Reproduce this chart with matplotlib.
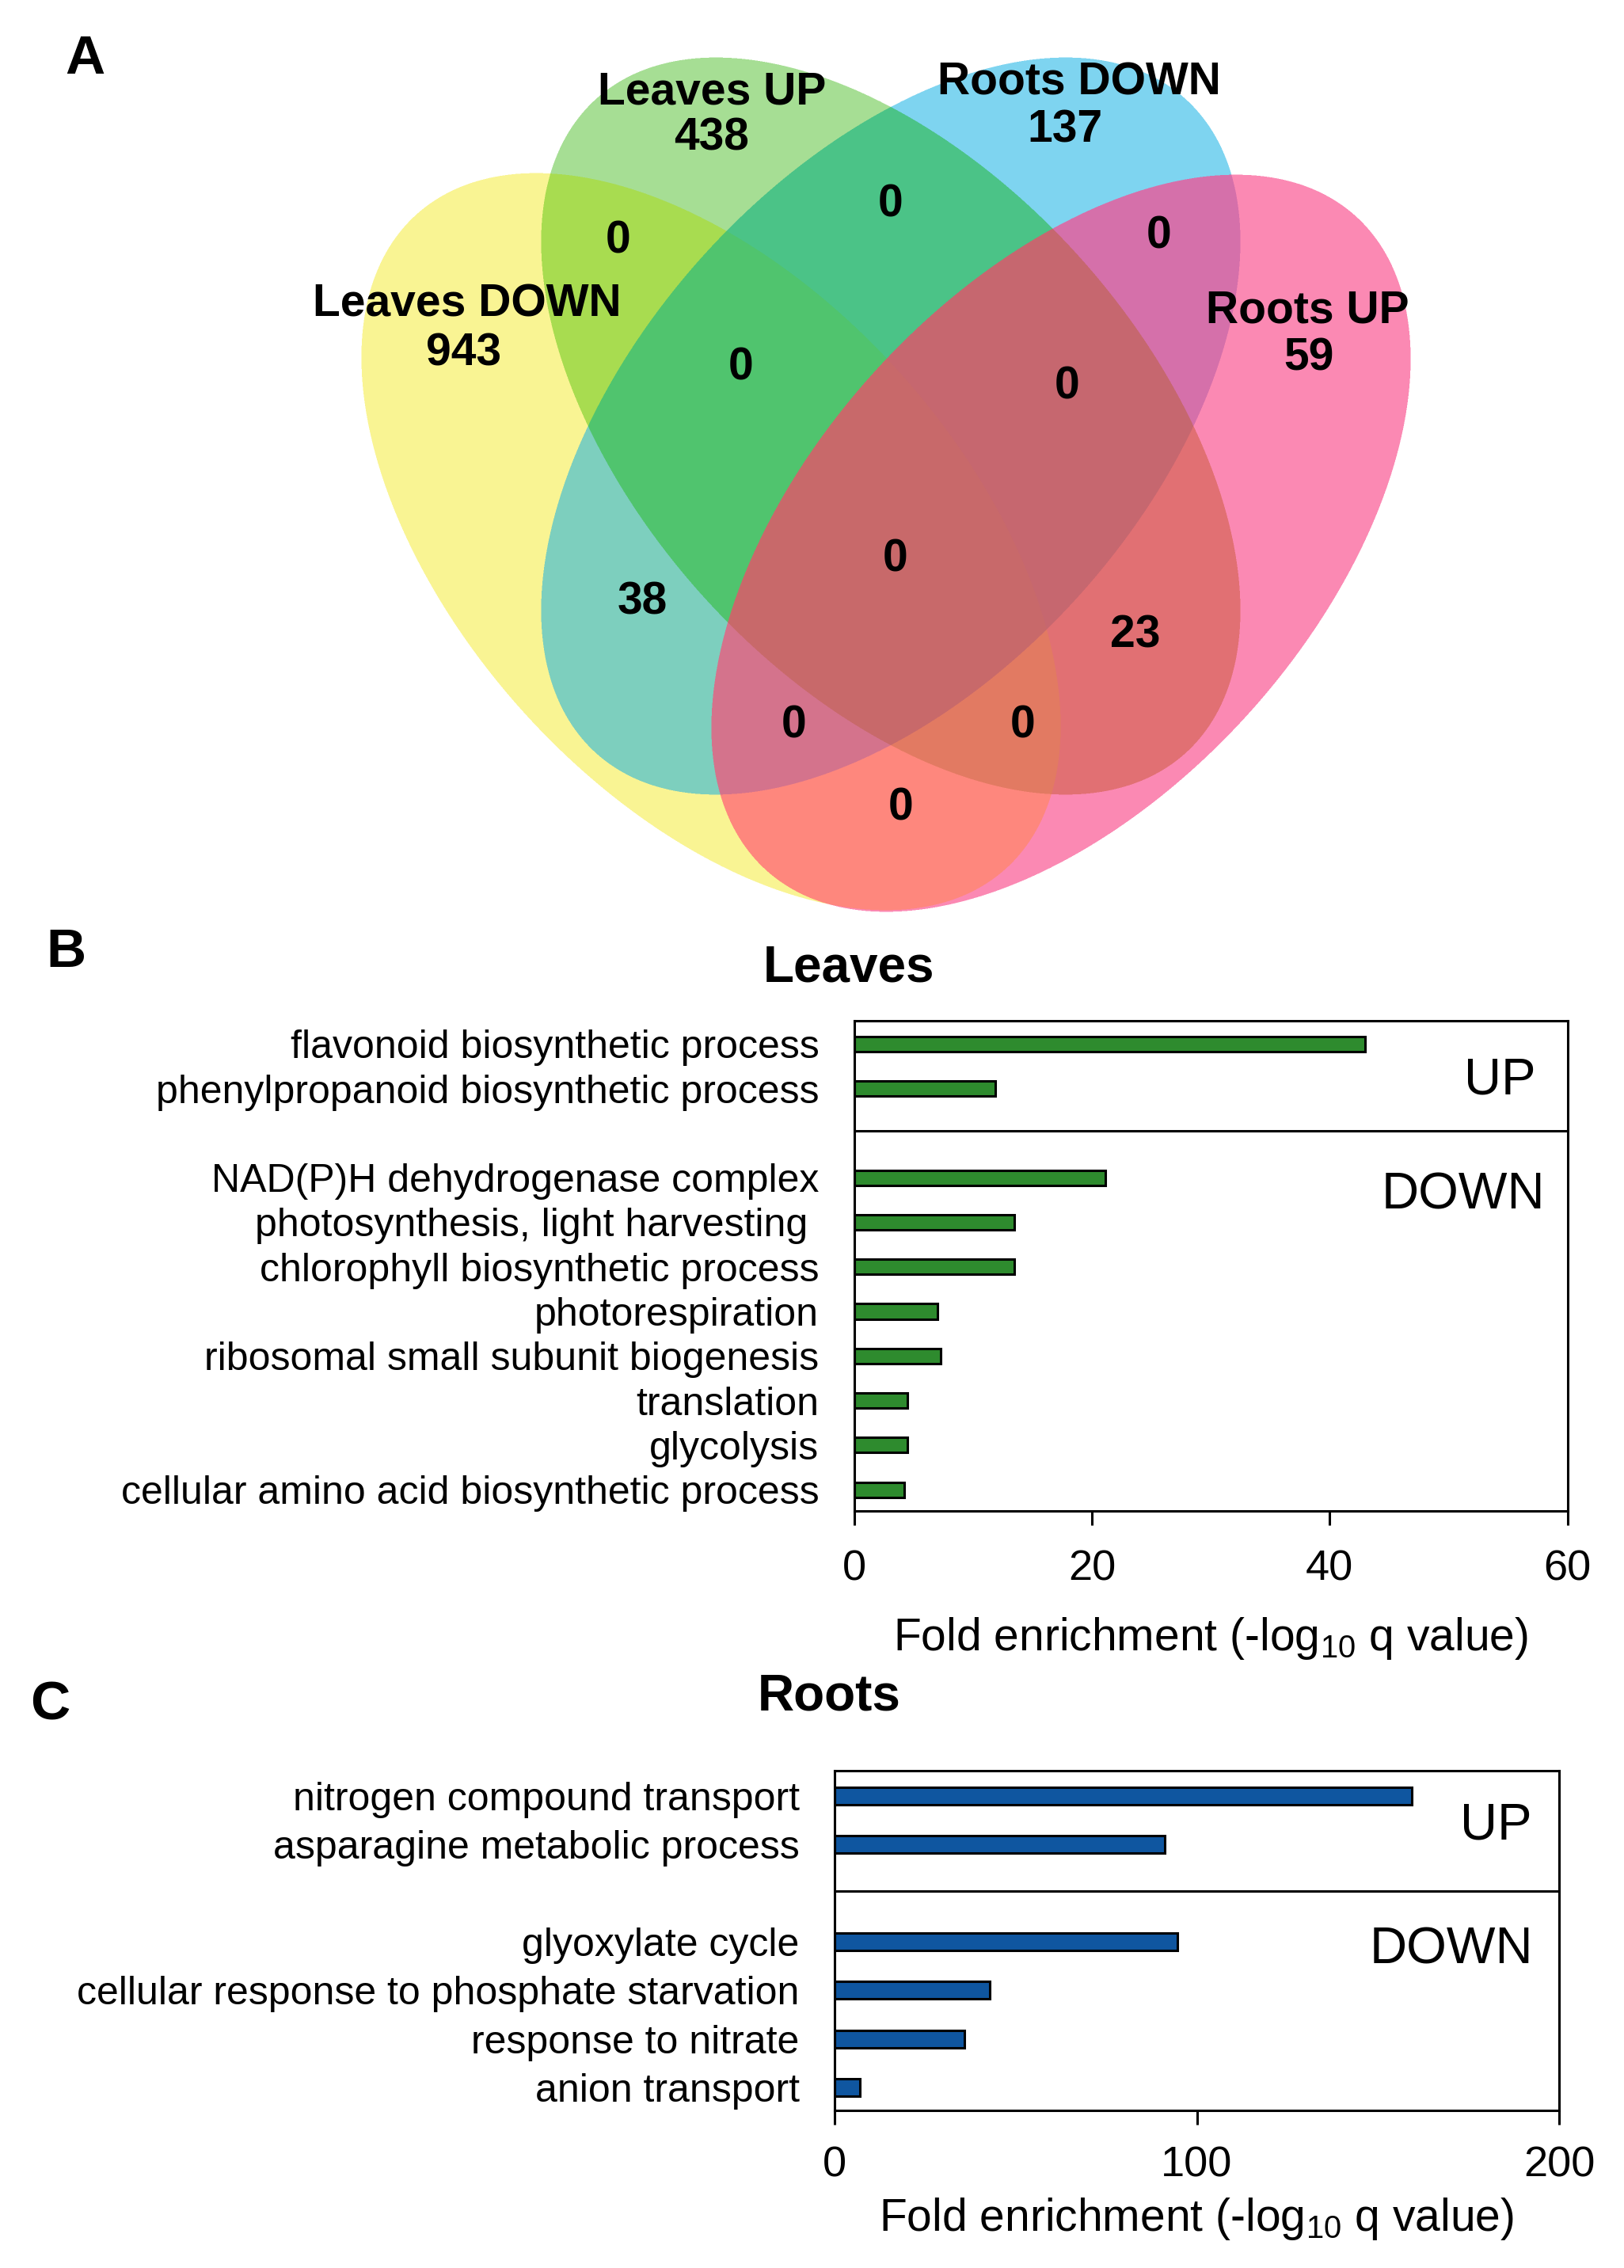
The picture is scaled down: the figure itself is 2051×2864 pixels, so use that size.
import numpy as np
import matplotlib.pyplot as plt

plt.rcParams['font.family'] = ['Liberation Sans', 'DejaVu Sans']

# --- panel A: Venn counts ---
venn_sets = ['Leaves DOWN', 'Leaves UP', 'Roots DOWN', 'Roots UP']
venn_only = [943, 438, 137, 59]
overlap_keys = ['LD&LU', 'LU&RD', 'RD&RU', 'LD&LU&RD', 'LU&RD&RU', 'all',
                'LD&RD', 'LU&RU', 'LD&RD&RU', 'LD&LU&RU', 'LD&RU']
overlap_counts = [0, 0, 0, 0, 0, 0, 38, 23, 0, 0, 0]

# --- panel B: leaves GO terms ---
leaves_up_terms = ['flavonoid biosynthetic process', 'phenylpropanoid biosynthetic process']
leaves_up_vals = [43.0, 11.9]
leaves_down_terms = ['NAD(P)H dehydrogenase complex', 'photosynthesis, light harvesting ',
                     'chlorophyll biosynthetic process', 'photorespiration',
                     'ribosomal small subunit biogenesis', 'translation', 'glycolysis',
                     'cellular amino acid biosynthetic process']
leaves_down_vals = [21.1, 13.5, 13.5, 7.0, 7.3, 4.5, 4.5, 4.2]

# --- panel C: roots GO terms ---
roots_up_terms = ['nitrogen compound transport', 'asparagine metabolic process']
roots_up_vals = [159.4, 91.2]
roots_down_terms = ['glyoxylate cycle', 'cellular response to phosphate starvation',
                    'response to nitrate', 'anion transport']
roots_down_vals = [94.7, 42.8, 35.8, 7.0]

# region fill colours, indexed by membership bits (LD=1, LU=2, RD=4, RU=8)
region_colors = ['#ffffff', '#f9f493', '#a6de94', '#a8dc50',
                 '#7ed4f0', '#7dcfbe', '#4bc387', '#50c46e',
                 '#fb89b3', '#fe877d', '#e17073', '#e27a62',
                 '#d570aa', '#d4738c', '#c6676f', '#c8696a']

W, H = 2051, 2864
fig = plt.figure(figsize=(W / 200, H / 200), dpi=200)

# Venn layout in pixel units
vax = fig.add_axes([0, 0, 1, 1])
vax.axis('off')

ell_centers = [(898, 684), (1125, 538), (1125, 538), (1340, 686)]
ell_angles = [48, 48, -48, -48]
ell_a, ell_b = 556, 320

# rasterise the four ellipses (2x supersampled) and colour each region
x0, x1, y0, y1 = 380, 1860, 0, 1200
ss = 2
gx, gy = np.meshgrid(np.arange(x0, x1, 1 / ss) + 0.5 / ss, np.arange(y0, y1, 1 / ss) + 0.5 / ss)
code = np.zeros(gx.shape, dtype=int)
for i, ((cx, cy), ang) in enumerate(zip(ell_centers, ell_angles)):
    t = np.deg2rad(ang)
    dx, dy = gx - cx, gy - cy
    u = dx * np.cos(t) + dy * np.sin(t)
    v = -dx * np.sin(t) + dy * np.cos(t)
    code += ((u / ell_a) ** 2 + (v / ell_b) ** 2 <= 1).astype(int) << i
lut = np.array([[int(c[k:k + 2], 16) for k in (1, 3, 5)] for c in region_colors]) / 255
img = lut[code]
img = img.reshape(img.shape[0] // ss, ss, img.shape[1] // ss, ss, 3).mean(axis=(1, 3))
vax.imshow(img, extent=(x0, x1, y1, y0), interpolation='nearest', aspect='auto', zorder=0)
vax.set_xlim(0, W)
vax.set_ylim(H, 0)

name_pos = [(590, 384), (899, 116), (1363, 105), (1651, 393)]
count_pos = [(586, 446), (899, 174), (1345, 165), (1653, 453)]
for name, n, p1, p2 in zip(venn_sets, venn_only, name_pos, count_pos):
    vax.text(p1[0], p1[1], name, ha='center', va='center', fontsize=20.5, fontweight='bold')
    vax.text(p2[0], p2[1], str(n), ha='center', va='center', fontsize=20.5, fontweight='bold')

overlap_pos = {'LD&LU': (781, 304), 'LU&RD': (1125, 259), 'RD&RU': (1464, 299),
               'LD&LU&RD': (936, 464), 'LU&RD&RU': (1348, 488), 'all': (1131, 707),
               'LD&RD': (811, 761), 'LU&RU': (1434, 802), 'LD&RD&RU': (1003, 917),
               'LD&LU&RU': (1292, 917), 'LD&RU': (1138, 1021)}
for k, n in zip(overlap_keys, overlap_counts):
    x, y = overlap_pos[k]
    vax.text(x, y, str(n), ha='center', va='center', fontsize=20.5, fontweight='bold')


def go_panel(rect, up_terms, up_vals, down_terms, down_vals, color, xmax, xticks,
             bar_h, up_xy, down_xy, tick_pad, label_pad):
    ax = fig.add_axes(rect)
    n_up = len(up_terms)
    y_up = np.arange(n_up)
    y_down = np.arange(len(down_terms)) + n_up + 1
    ax.barh(y_up, up_vals, height=bar_h, color=color, edgecolor='black', linewidth=1.1)
    ax.barh(y_down, down_vals, height=bar_h, color=color, edgecolor='black', linewidth=1.1)
    ax.axhline(n_up - 0.05, color='black', lw=1.1)
    ax.set_ylim(y_down[-1] + 0.47, -0.52)
    ax.set_xlim(0, xmax)
    ax.set_xticks(xticks)
    ax.set_yticks(np.concatenate([y_up, y_down]))
    ax.set_yticklabels(up_terms + down_terms, fontsize=18)
    ax.tick_params(axis='y', length=0, pad=16)
    ax.tick_params(axis='x', direction='out', length=6.5, width=1.1, labelsize=19.5, pad=tick_pad)
    for s in ax.spines.values():
        s.set_linewidth(1.1)
    ax.set_xlabel(r'Fold enrichment (-log$_{\mathregular{10}}$ q value)', fontsize=20.5, labelpad=label_pad)
    ax.text(up_xy[0], up_xy[1], 'UP', transform=ax.transAxes, ha='right', va='center', fontsize=23.5)
    ax.text(down_xy[0], down_xy[1], 'DOWN', transform=ax.transAxes, ha='right', va='center', fontsize=23.5)
    return ax


go_panel([1078.7 / W, 1 - 1907.6 / H, 901 / W, 618.6 / H],
         leaves_up_terms, leaves_up_vals, leaves_down_terms, leaves_down_vals,
         '#2e8b2e', 60, [0, 20, 40, 60], 0.34, (0.955, 0.878), (0.968, 0.644), 11, 12)
go_panel([1054 / W, 1 - 2665 / H, 915 / W, 429 / H],
         roots_up_terms, roots_up_vals, roots_down_terms, roots_down_vals,
         '#0f56a0', 200, [0, 100, 200], 0.36, (0.962, 0.839), (0.964, 0.473), 9.5, 5)

fig.text(1072 / W, 1 - 1222 / H, 'Leaves', ha='center', va='center', fontsize=23, fontweight='bold')
fig.text(1047 / W, 1 - 2142 / H, 'Roots', ha='center', va='center', fontsize=23, fontweight='bold')
fig.text(107 / W, 1 - 75 / H, 'A', ha='center', va='center', fontsize=25, fontweight='bold')
fig.text(83 / W, 1 - 1203 / H, 'B', ha='center', va='center', fontsize=25, fontweight='bold')
fig.text(63 / W, 1 - 2153 / H, 'C', ha='center', va='center', fontsize=25, fontweight='bold')

fig.savefig('out.png', dpi=200, facecolor='white')
